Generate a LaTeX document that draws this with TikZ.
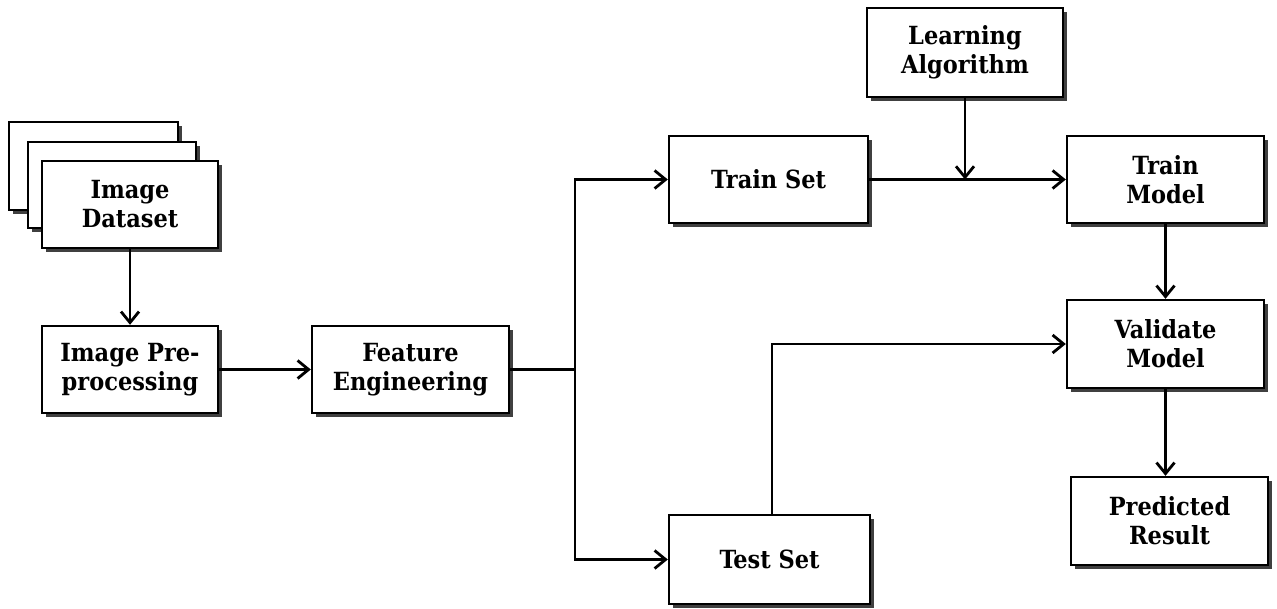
\documentclass[tikz,border=0pt]{standalone}
\usepackage{fontspec}
\setmainfont{DejaVu Serif Condensed}
\usetikzlibrary{arrows.meta,shadows}
\begin{document}
\begin{tikzpicture}[x=1pt,y=-1pt,
  box/.style={draw=black, line width=2.4pt, fill=white, align=center,
    font=\bfseries\fontsize{25}{29}\selectfont, inner sep=0pt,
    drop shadow={shadow xshift=4pt, shadow yshift=-4pt, fill=black!75, opacity=1}},
  conn/.style={line width=2.2pt, -{Straight Barb[length=11pt,width=18pt,line width=2.8pt]}},
  plain/.style={line width=2.2pt}]
\useasboundingbox (0,0) rectangle (1277,608);
\node[box, minimum width=169pt, minimum height=88pt] (back1) at (93.5,166) {};
\node[box, minimum width=168pt, minimum height=86pt] (back2) at (112,185) {};
\node[box, minimum width=176pt, minimum height=87pt] (data) at (130,204.5) {Image\\Dataset};
\node[box, minimum width=176pt, minimum height=87pt] (pre) at (130,369.5) {Image Pre-\\processing};
\node[box, minimum width=197pt, minimum height=87pt] (feat) at (410.5,369.5) {Feature\\Engineering};
\node[box, minimum width=199pt, minimum height=87pt] (train) at (768.5,179.5) {Train Set};
\node[box, minimum width=201pt, minimum height=89pt] (test) at (769.5,559.5) {Test Set};
\node[box, minimum width=196pt, minimum height=89pt] (learn) at (965,52.5) {Learning\\Algorithm};
\node[box, minimum width=197pt, minimum height=87pt] (tmodel) at (1165.5,179.5) {Train\\Model};
\node[box, minimum width=197pt, minimum height=88pt] (valid) at (1165.5,344) {Validate\\Model};
\node[box, minimum width=197pt, minimum height=88pt] (pred) at (1169.5,521) {Predicted\\Result};
\coordinate (split) at (575,369.5);
\draw[conn] (data.south) -- (pre.north);
\draw[conn] (pre.east) -- (feat.west);
\draw[plain] (feat.east) -- (split);
\draw[conn] (split) |- (train.west);
\draw[conn] (split) |- (test.west);
\draw[conn] (train.east) -- (tmodel.west);
\coordinate (junction) at (learn.south |- train.east);
\draw[conn] (learn.south) -- (junction);
\draw[conn] ([xshift=2.5pt]test.north) |- (valid.west);
\draw[conn] (tmodel.south) -- (valid.north);
\draw[conn] (valid.south) -- (valid.south |- pred.north);
\end{tikzpicture}
\end{document}
